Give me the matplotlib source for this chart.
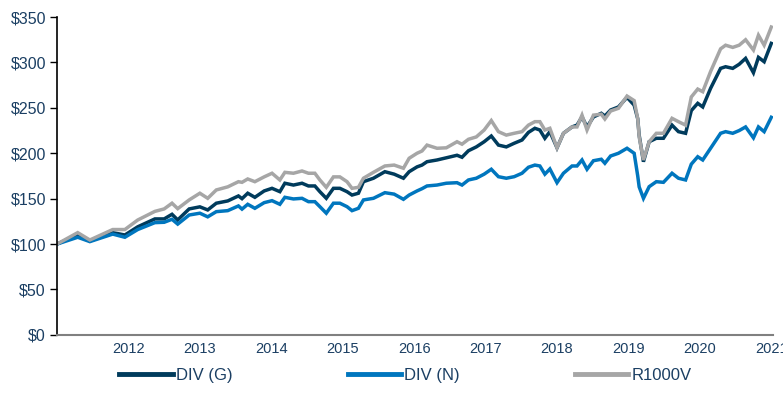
import matplotlib
matplotlib.use('Agg')
import matplotlib.pyplot as plt
import numpy as np

plt.rcParams['font.family'] = ['Liberation Sans', 'DejaVu Sans']

# values (growth of $100)
years = [2011.00, 2011.29, 2011.46, 2011.78, 2011.95, 2012.13, 2012.37, 2012.50, 2012.61, 2012.69,
         2012.85, 2013.00, 2013.11, 2013.23, 2013.39, 2013.54, 2013.59, 2013.67, 2013.77, 2013.90,
         2014.01, 2014.12, 2014.19, 2014.31, 2014.43, 2014.52, 2014.61, 2014.68, 2014.77, 2014.87,
         2014.96, 2015.06, 2015.13, 2015.22, 2015.29, 2015.43, 2015.59, 2015.72, 2015.85, 2015.93,
         2016.04, 2016.11, 2016.18, 2016.32, 2016.45, 2016.60, 2016.67, 2016.76, 2016.87, 2016.98,
         2017.08, 2017.18, 2017.29, 2017.40, 2017.51, 2017.60, 2017.69, 2017.76, 2017.83, 2017.90,
         2018.00, 2018.09, 2018.21, 2018.28, 2018.35, 2018.42, 2018.51, 2018.62, 2018.67, 2018.75,
         2018.86, 2018.98, 2019.08, 2019.13, 2019.15, 2019.21, 2019.29, 2019.39, 2019.49, 2019.61,
         2019.70, 2019.80, 2019.88, 2019.97, 2020.04, 2020.15, 2020.29, 2020.36, 2020.46, 2020.55,
         2020.64, 2020.75, 2020.82, 2020.90, 2021.00]

div_g = [100, 110, 103.5, 112.6, 110, 119, 127.7, 127.7, 132.8, 126.6,
         138.7, 141, 137.6, 145, 147.5, 153, 150, 156, 151.5, 158.5,
         161.4, 157.7, 167, 165, 167, 164, 164, 157.7, 150.4, 161.4,
         161.4, 157.7, 154, 156, 168.7, 172.5, 179.7, 177, 172.5, 179.7,
         185, 187, 190.7, 192.6, 195, 197.8, 195.6, 202.8, 207, 212.7,
         219, 209, 207, 211, 214.6, 223, 227.5, 225.6, 216.5, 223.8,
         206, 222, 229, 231, 240, 229, 240, 244, 241, 247.6,
         251, 261.6, 253, 238, 220, 190.7, 212.7, 216.5, 216.5, 231,
         223.8, 222, 247, 255, 251, 271.5, 293.5, 295.3, 293.5, 298,
         304.5, 288.7, 305.6, 300.8, 321]

div_n = [100, 107.5, 102.7, 111, 107.5, 116, 123.6, 124, 127.3, 122,
         132, 134, 130, 135.7, 136.8, 142, 138.5, 143.8, 139.4, 145.6,
         147.8, 143.8, 151.5, 149.7, 150.4, 146.7, 146.7, 141.2, 134, 145,
         145, 141.2, 136.8, 139.4, 148.6, 150.4, 156.6, 155, 149.3, 154,
         158.5, 161, 164, 165, 167, 167.6, 165, 170.6, 172.5, 177,
         182.4, 174.2, 172.5, 174.2, 178, 184.6, 187, 186, 177, 182.7,
         167.6, 178, 186, 186, 192.6, 182.4, 191.8, 193.4, 189, 197,
         200, 205.5, 200, 175, 163, 150.4, 163.2, 168.7, 168, 178,
         172.5, 170.6, 188, 196.2, 192.6, 205.5, 222, 223.8, 222, 225,
         229, 217, 229, 223.8, 239.6]

r1000v = [100, 112.6, 104.5, 116, 116, 126.5, 136, 138.7, 145, 139,
          148.6, 156, 150.4, 159.6, 163, 168.7, 168, 171.7, 168.7, 174,
          178, 170.6, 179, 178, 180.5, 178, 178, 170.6, 162.5, 174,
          174, 168.7, 161.4, 162.5, 172.5, 179, 186, 187, 183.5, 194.5,
          200, 202.5, 209, 205.5, 206, 212.7, 210, 215.4, 218, 225.6,
          236, 223.8, 220, 222, 223.8, 231, 234.8, 234.8, 225.6, 227.5,
          206, 222, 229, 229, 242, 225.6, 242, 243, 237.7, 246.5,
          249.5, 263, 258, 238, 218, 192.6, 212.7, 222, 222, 238.5,
          234.8, 231, 262, 270.7, 267.8, 290, 315, 319, 316.6, 319,
          325, 313.7, 330, 319, 339]

labels = ['DIV (G)', 'DIV (N)', 'R1000V']
colors = ['#003B5C', '#0076BE', '#A6A6A6']
year_ticks = [2012, 2013, 2014, 2015, 2016, 2017, 2018, 2019, 2020, 2021]
y_ticks = [0, 50, 100, 150, 200, 250, 300, 350]

text_col = '#1B3F63'

fig = plt.figure(figsize=(7.83, 4.16), dpi=100)
ax = fig.add_axes([0.0728, 0.195, 0.915, 0.764])

for series, lab, c in zip([div_g, div_n, r1000v], labels, colors):
    ax.plot(years, series, color=c, lw=2.5, label=lab, solid_joinstyle='miter')

ax.set_xlim(2011.0, 2021.03)
ax.set_ylim(0, 350)
ax.set_yticks(y_ticks)
ax.set_yticklabels(['$%d' % v for v in y_ticks])
ax.set_xticks(year_ticks)
ax.set_xticklabels([str(y) for y in year_ticks])

ax.spines['top'].set_visible(False)
ax.spines['right'].set_visible(False)
ax.spines['left'].set_color('black')
ax.spines['left'].set_linewidth(1.2)
ax.spines['bottom'].set_color('#808080')
ax.spines['bottom'].set_linewidth(1.5)

ax.tick_params(axis='y', direction='out', length=5, width=1, color='black',
               labelsize=11.5, labelcolor=text_col, pad=3)
ax.tick_params(axis='x', length=0, labelsize=10.5, labelcolor=text_col, pad=5)

leg = fig.legend(loc='center', bbox_to_anchor=(0.518, 0.097), ncol=3, frameon=False,
                 handlelength=3.2, handletextpad=0.2, columnspacing=6.9,
                 fontsize=12)
for t in leg.get_texts():
    t.set_color(text_col)
for h in leg.get_lines():
    h.set_linewidth(3.5)

plt.savefig('out.png', dpi=100)
